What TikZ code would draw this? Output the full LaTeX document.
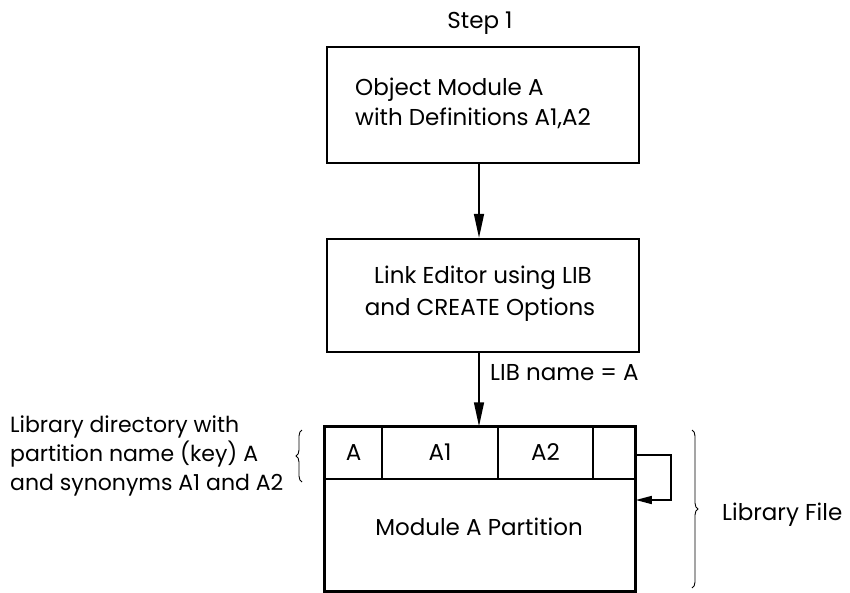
\documentclass[tikz,border=0pt]{standalone}
\usepackage{fontspec}
\setmainfont{Poppins}
\usetikzlibrary{arrows.meta,decorations.pathreplacing}
\begin{document}
\begin{tikzpicture}[x=1pt,y=-1pt,
  txt/.style={font=\fontsize{23}{29}\selectfont, inner sep=0pt},
  sidetxt/.style={font=\fontsize{22}{29}\selectfont, inner sep=0pt},
  box/.style={draw, line width=2.4pt, inner sep=0pt},
  cell/.style={draw, line width=1.5pt, inner sep=0pt},
  flow/.style={line width=1.5pt, -{Triangle[length=24pt,width=10pt]}},
  loopflow/.style={line width=1.5pt, -{Triangle[length=16pt,width=8pt]}},
  brc/.style={line width=0.9pt, decorate, decoration={brace, amplitude=6pt}}]
\useasboundingbox (0,0) rectangle (850,592);

% heading
\node[txt, anchor=base] (step) at (480,28) {Step 1};

% object module box
\node[box, minimum width=312pt, minimum height=116pt] (obj) at (483,105) {};
\node[txt, anchor=base west] (obj1) at (355,95) {Object Module A};
\node[txt, anchor=base west] (obj2) at (355,125) {with Definitions A1,A2};

% link editor box
\node[box, minimum width=312pt, minimum height=113pt] (link) at (483,295.5) {};
\node[txt, anchor=base] (link1) at (483,283) {Link Editor using LIB};
\node[txt, anchor=base] (link2) at (480,315) {and CREATE Options};

% library file: directory row over the module partition
\node[cell, minimum width=57pt, minimum height=52pt] (cA) at (353.5,453) {};
\node[cell, minimum width=116pt, minimum height=52pt] (cA1) at (440,453) {};
\node[cell, minimum width=95pt, minimum height=52pt] (cA2) at (545.5,453) {};
\node[cell, minimum width=42pt, minimum height=52pt] (cE) at (614,453) {};
\node[cell, minimum width=310pt, minimum height=112pt] (part) at (480,535) {};
\draw[line width=2.4pt] (cA.north west) rectangle (part.south east);
\node[txt, anchor=base] (tA) at (cA.center |- 0,460) {A};
\node[txt, anchor=base] (tA1) at (cA1.center |- 0,460) {A1};
\node[txt, anchor=base] (tA2) at (cA2.center |- 0,460) {A2};
\node[txt, anchor=base] (tpart) at (479,535) {Module A Partition};

% connectors
\draw[flow] (obj.south -| 479,0) -- (link.north -| 479,0);
\draw[flow] (link.south -| 479,0) -- (cA1.north -| 479,0);
\node[txt, anchor=base west] (lib) at (490,380) {LIB name = A};
\coordinate (lo1) at (671,455);
\coordinate (lo2) at (671,500);
\draw[loopflow] (cE.east |- lo1) -- (lo1) -- (lo2) -- (part.east |- lo2);

% braces with their labels
\draw[brc] (302,482) -- (302,430);
\node[sidetxt, anchor=base west] (dir1) at (10,432) {Library directory with};
\node[sidetxt, anchor=base west] (dir2) at (10,461) {partition name (key) A};
\node[sidetxt, anchor=base west] (dir3) at (10,490) {and synonyms A1 and A2};
\draw[brc] (692,430) -- (692,588);
\node[txt, anchor=base west] (lf) at (722,520) {Library File};
\end{tikzpicture}
\end{document}
